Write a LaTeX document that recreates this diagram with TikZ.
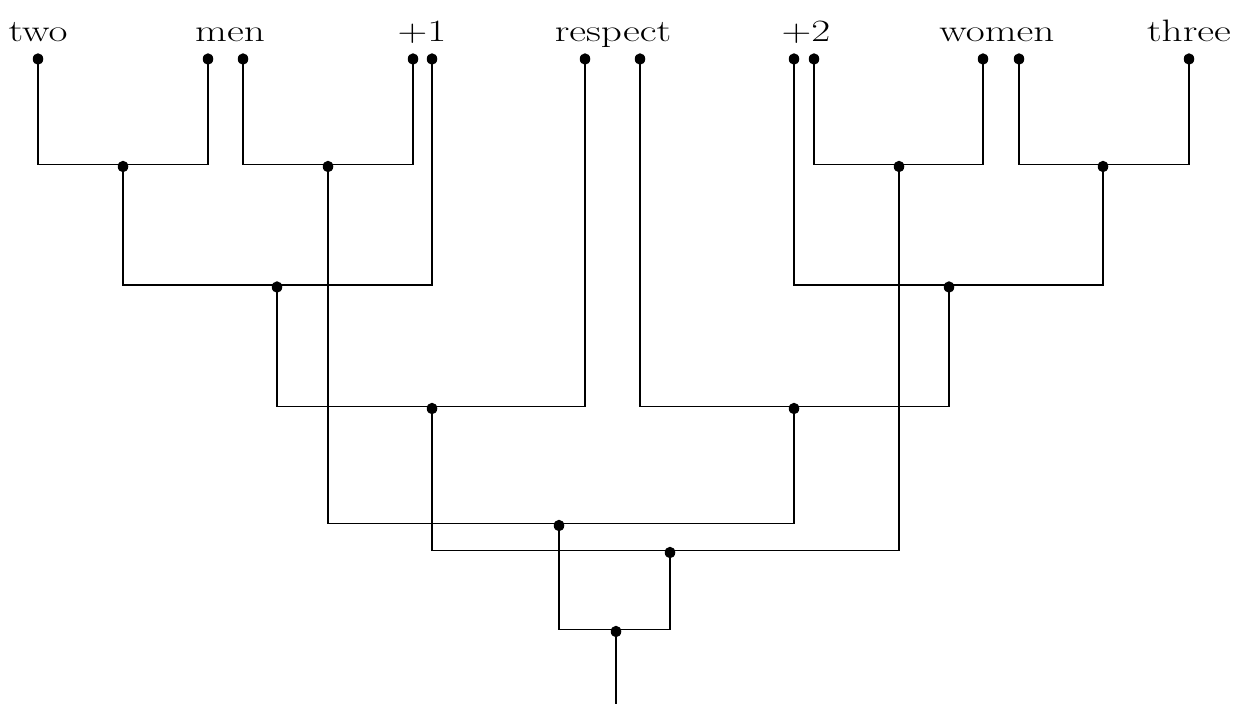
\documentclass[tikz,border=0pt]{standalone}
\usepackage{fontspec}
\usetikzlibrary{shapes.geometric}
\newfontfamily\lblfont{lmroman17-regular.otf}[FakeStretch=1.33]
\begin{document}
\begin{tikzpicture}[x=1pt,y=-1pt,
  lbl/.style={font=\lblfont\fontsize{31}{37}\selectfont, anchor=base, inner sep=0pt},
  link/.style={line width=1.8pt, line join=miter},
  dot/.style={ellipse, fill=black, inner sep=0pt, minimum width=10.5pt, minimum height=11.5pt}]
\useasboundingbox (0,0) rectangle (1238,704);

% word labels
\node[lbl] (t1) at (38,41) {two};
\node[lbl] (t2) at (230,41) {men};
\node[lbl] (t3) at (422,41) {+1};
\node[lbl] (t4) at (613,41) {respect};
\node[lbl] (t5) at (806,41) {+2};
\node[lbl] (t6) at (997,41) {women};
\node[lbl] (t7) at (1189,41) {three};

% leaf attachment points
\foreach \n/\x in {1/38,2/208,3/243,4/413,5/432,6/585,7/640,8/794,9/814,10/983,11/1019,12/1189}
  \coordinate (l\n) at (\x,59);

% internal merge points
\coordinate (mA) at (123,164.5);
\coordinate (mB) at (328,164.5);
\coordinate (mE) at (899,164.5);
\coordinate (mF) at (1103,164.5);
\coordinate (mC) at (277,285);
\coordinate (mG) at (949,285);
\coordinate (mD) at (432,406.5);
\coordinate (mH) at (794,406.5);
\coordinate (mI) at (559,523.5);
\coordinate (mJ) at (670,550.5);
\coordinate (mK) at (616,629.5);
\coordinate (root) at (616,704);

% brackets
\draw[link] (l1) |- (mA) -| (l2);
\draw[link] (l3) |- (mB) -| (l4);
\draw[link] (l9) |- (mE) -| (l10);
\draw[link] (l11) |- (mF) -| (l12);
\draw[link] (mA) |- (mC) -| (l5);
\draw[link] (l8) |- (mG) -| (mF);
\draw[link] (mC) |- (mD) -| (l6);
\draw[link] (l7) |- (mH) -| (mG);
\draw[link] (mB) |- (mI) -| (mH);
\draw[link] (mD) |- (mJ) -| (mE);
\draw[link] (mI) |- (mK) -| (mJ);
\draw[link] (mK) -- (root);

% dots
\foreach \n in {1,...,12}
  \node[dot] (d\n) at (l\n) {};
\foreach \m in {A,B,C,D,E,F,G,H,I,J,K}
  \node[dot] (dm\m) at ([yshift=-2pt]m\m) {};
\end{tikzpicture}
\end{document}
